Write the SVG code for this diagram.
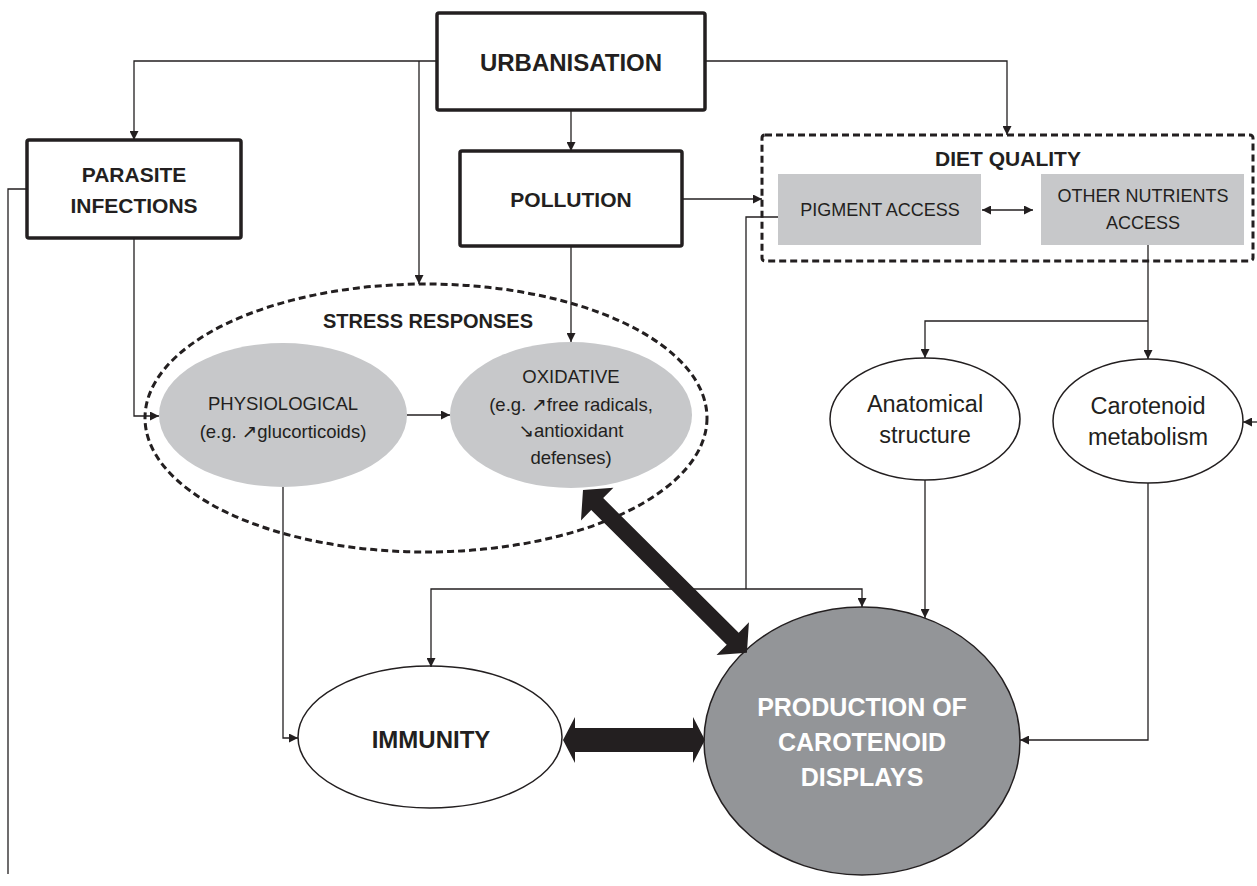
<svg xmlns="http://www.w3.org/2000/svg" width="1257" height="886" viewBox="0 0 1257 886">
<defs>
<marker id="ah" markerUnits="userSpaceOnUse" markerWidth="10" markerHeight="9" refX="9" refY="4.5" orient="auto-start-reverse"><path d="M0,0 L9,4.5 L0,9 z" fill="#231f20"/></marker>
</defs>
<style>
text{font-family:"Liberation Sans","DejaVu Sans",sans-serif;fill:#231f20;text-anchor:middle;dominant-baseline:central}
.b{font-weight:bold}
.box{fill:#fff;stroke:#231f20;stroke-width:3.5}
.dash{fill:none;stroke:#231f20;stroke-width:3;stroke-dasharray:7 4}
.grey{fill:#c7c8ca}
.oval{fill:#fff;stroke:#231f20;stroke-width:1.5}
.ln{fill:none;stroke:#231f20;stroke-width:1.3}
.arr{marker-end:url(#ah)}
.thick{fill:#231f20}
</style>
<rect width="1257" height="886" fill="#fff"/>

<g id="urbanisation"><rect class="box" x="437" y="13" width="268" height="97" rx="2"/><text class="b" x="571" y="62" font-size="24">URBANISATION</text></g>
<g id="parasite"><rect class="box" x="27" y="140" width="214" height="98" rx="2"/><text class="b" x="134" y="174" font-size="21">PARASITE</text><text class="b" x="134" y="205" font-size="21">INFECTIONS</text></g>
<g id="pollution"><rect class="box" x="460" y="151" width="222" height="95" rx="2"/><text class="b" x="571" y="199" font-size="21">POLLUTION</text></g>

<g id="diet-quality"><rect class="dash" x="762" y="135" width="491" height="126" rx="3"/><text class="b" x="1008" y="158" font-size="21">DIET QUALITY</text></g>
<g id="pigment-access"><rect class="grey" x="778" y="174" width="203" height="71"/><text x="880" y="210" font-size="18">PIGMENT ACCESS</text></g>
<g id="other-nutrients"><rect class="grey" x="1041" y="174" width="203" height="71"/><text x="1143" y="196" font-size="18">OTHER NUTRIENTS</text><text x="1143" y="223" font-size="18">ACCESS</text></g>

<g id="stress-responses"><ellipse class="dash" cx="426" cy="418" rx="281" ry="134"/><text class="b" x="428" y="321" font-size="20">STRESS RESPONSES</text></g>
<g id="physiological"><ellipse class="grey" cx="283" cy="415" rx="124" ry="72"/><text x="283" y="403" font-size="18.5">PHYSIOLOGICAL</text><text x="283" y="431" font-size="18.5">(e.g. ↗glucorticoids)</text></g>
<g id="oxidative"><ellipse class="grey" cx="571" cy="415" rx="121" ry="73"/><text x="571" y="376" font-size="18.5">OXIDATIVE</text><text x="571" y="404" font-size="18.5">(e.g. ↗free radicals,</text><text x="571" y="430" font-size="18.5">↘antioxidant</text><text x="571" y="457" font-size="18.5">defenses)</text></g>

<g id="anatomical"><ellipse class="oval" cx="925" cy="419" rx="95" ry="61"/><text x="925" y="404" font-size="23.5">Anatomical</text><text x="925" y="435" font-size="23.5">structure</text></g>
<g id="carotenoid-metabolism"><ellipse class="oval" cx="1148" cy="421" rx="95" ry="62"/><text x="1148" y="406" font-size="23.5">Carotenoid</text><text x="1148" y="437" font-size="23.5">metabolism</text></g>

<g id="immunity"><ellipse class="oval" cx="430" cy="737" rx="132" ry="71"/><text class="b" x="431" y="739" font-size="24">IMMUNITY</text></g>
<g id="production"><ellipse cx="862" cy="741" rx="158" ry="134" fill="#939598" stroke="#231f20" stroke-width="1.5"/><text class="b" x="862" y="707" font-size="25" style="fill:#fff">PRODUCTION OF</text><text class="b" x="862" y="742" font-size="25" style="fill:#fff">CAROTENOID</text><text class="b" x="862" y="777" font-size="25" style="fill:#fff">DISPLAYS</text></g>

<g id="connectors">
<path class="ln arr" d="M437,61 H134 V140"/>
<path class="ln arr" d="M419,61 V284"/>
<path class="ln arr" d="M571,110 V151"/>
<path class="ln arr" d="M705,61 H1007 V135"/>
<path class="ln arr" d="M682,199 H762"/>
<path class="ln arr" d="M571,246 V342"/>
<path class="ln arr" d="M134,238 V416 H159"/>
<path class="ln" d="M27,189 H8 V874"/>
<path class="ln arr" d="M407,415 H450"/>
<path class="ln" d="M778,217 H746 V589"/>
<path class="ln arr" d="M746,589 H431 V667"/>
<path class="ln arr" d="M746,589 H862 V607"/>
<path class="ln arr" d="M1148,245 V359"/>
<path class="ln arr" d="M1148,321 H925 V358"/>
<path class="ln arr" d="M925,480 V618"/>
<path class="ln arr" d="M1148,483 V740 H1020"/>
<path class="ln arr" d="M1257,422 H1243"/>
<path class="ln arr" d="M283,487 V738 H298"/>
<path class="ln arr" style="marker-start:url(#ah)" d="M982,210 H1033"/>
<polygon class="thick" points="563,740 575,717 575,728 693,728 693,717 705,740 693,763 693,752 575,752 575,763"/>
<polygon class="thick" transform="translate(583,490) rotate(44.8)" points="0,0 20,-23 20,-8.5 211,-8.5 211,-23 231,0 211,23 211,8.5 20,8.5 20,23"/>
</g>
</svg>
